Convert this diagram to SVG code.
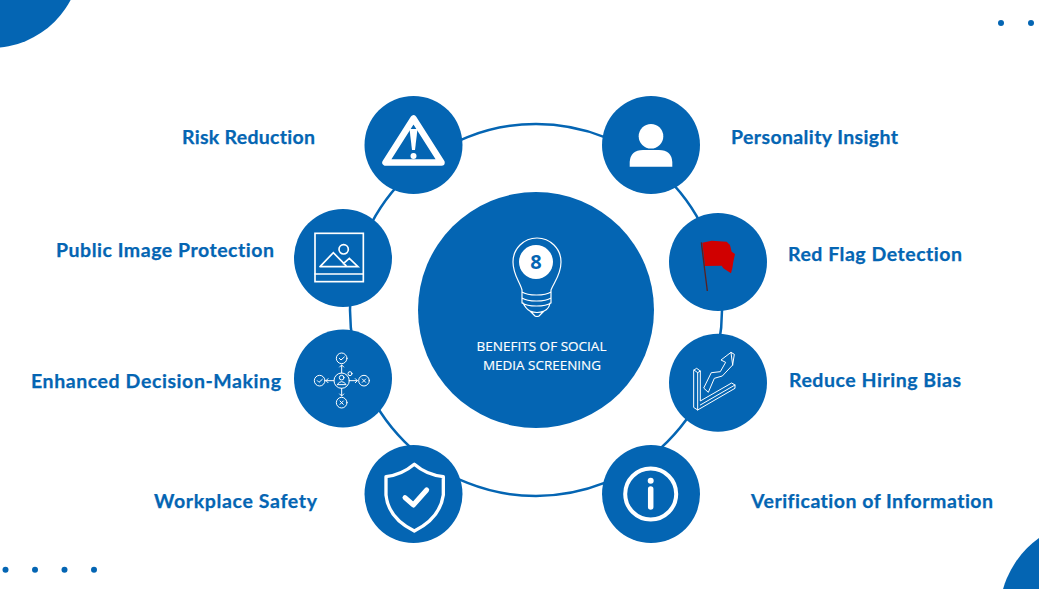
<svg xmlns="http://www.w3.org/2000/svg" width="1039" height="589" viewBox="0 0 1039 589">
<style>
.b{fill:#0465b3}
.l{font-family:"Lato","Liberation Sans",sans-serif;font-weight:700;font-size:19.500px;fill:#0465b3;stroke:#0465b3;stroke-width:.25px;font-variant-ligatures:none}
.c{font-family:"Open Sans","Liberation Sans",sans-serif;font-size:13.500px;fill:#fff;stroke:#fff;stroke-width:.15px;text-anchor:middle}
.w{fill:none;stroke:#fff;stroke-linejoin:round;stroke-linecap:round}
.z{fill:none;stroke:#fff;stroke-linejoin:round;stroke-linecap:round;stroke-width:3}
</style>
<rect width="1039" height="589" fill="#fff"/>
<g id="decor">
<circle class="b" cx="-9" cy="-42" r="90"/>
<circle class="b" cx="1094" cy="615" r="94.600"/>
<circle class="b" cx="1001" cy="23" r="3"/><circle class="b" cx="1031" cy="23" r="3"/>
<circle class="b" cx="5.500" cy="569.700" r="3"/><circle class="b" cx="35" cy="569.700" r="3"/><circle class="b" cx="64.500" cy="569.700" r="3"/><circle class="b" cx="94" cy="569.700" r="3"/>
</g>
<g id="connectors"><circle cx="536" cy="310" r="186" fill="none" stroke="#0465b3" stroke-width="2.500"/></g>
<g id="center"><circle class="b" cx="536" cy="310" r="118"/>
<path class="w" stroke-width="1.200" d="M522 290C520 282 513 275 513 262a24 24 0 0 1 48 0C561 275 554 282 551 290V292C545 296 528 296 522 292ZM522 292V298C528 302 545 302 551 298V292M522 298V303C528 307 545 307 551 303V298M523 303Q526 309 530 311L535 316Q537 317 539 316L544 311Q549 309 550 303M530 311Q537 314 544 311"/>
<circle cx="536" cy="262" r="17" fill="#fff"/>
<text x="536" y="269" font-family="'Open Sans','Liberation Sans',sans-serif" font-weight="700" font-size="20" text-anchor="middle" fill="#0465b3">8</text>
<text class="c" x="541.500" y="351" textLength="130" lengthAdjust="spacingAndGlyphs">BENEFITS OF SOCIAL</text><text class="c" x="542" y="370" textLength="118" lengthAdjust="spacingAndGlyphs">MEDIA SCREENING</text></g>
<g id="n-risk"><circle class="b" cx="413.500" cy="145" r="49"/>
<path class="w" stroke-width="6.500" d="M413.500 118.500L385.500 162.500H441.500Z"/><path d="M409.500 129h8l-2.500 21h-3Z" fill="#fff"/><circle cx="413.500" cy="156" r="3" fill="#fff"/>
<text class="l" x="182" y="143.500" textLength="133">Risk Reduction</text></g>
<g id="n-personality"><circle class="b" cx="651" cy="145" r="49"/>
<circle cx="651" cy="136.300" r="12.300" fill="#fff"/><path d="M629.700 166.700V162Q630.500 150 643 150H659Q671.500 150 672.300 162V166.700Z" fill="#fff"/>
<text class="l" x="731" y="143.500" textLength="167">Personality Insight</text></g>
<g id="n-image"><circle class="b" cx="343" cy="258" r="49"/>
<g transform="translate(290 90) scale(.3333)"><rect x="75" y="430" width="145" height="145" class="z" style="stroke-width:5;stroke-linejoin:miter"/><path class="z" style="stroke-width:5;stroke-linejoin:miter" d="M75 552H220M90 530H204L178 505L160 521M90 530L130 488L168 527"/><circle cx="161" cy="478" r="14" class="z" style="stroke-width:5"/></g>
<text class="l" x="56" y="256.500" textLength="218">Public Image Protection</text></g>
<g id="n-flag"><circle class="b" cx="718" cy="262" r="49"/>
<g transform="translate(595 90) scale(.3333)"><path d="M322 458L350 452L395 455L405 465L410 485L420 492L415 515L412 535L408 550L385 535L380 527L330 528Z" fill="#d00000"/><path d="M319 457L337 603" stroke="#5a2020" stroke-width="4" fill="none"/></g>
<text class="l" x="788" y="260.500" textLength="174">Red Flag Detection</text></g>
<g id="n-decision"><circle class="b" cx="343" cy="378.500" r="49"/>
<g transform="translate(290 325) scale(.3333)"><g class="z"><circle cx="155" cy="167" r="23"/><circle cx="155" cy="100" r="16"/><circle cx="155" cy="233" r="16"/><circle cx="89" cy="167" r="16"/><circle cx="222" cy="167" r="16"/><circle cx="155" cy="158" r="7"/><circle cx="180" cy="146" r="6"/><path d="M142 178q13-17 26 0zM155 144V120M149 126L155 120L161 126M155 190V213M149 207L155 213L161 207M132 167H108M114 161L108 167L114 173M178 167H202M196 161L202 167L196 173M82 167l5 5l10-9M148 100l5 5l10-9M217 162l10 10m0-10l-10 10M150 228l10 10m0-10l-10 10"/></g></g>
<text class="l" x="31" y="387.500" textLength="250">Enhanced Decision-Making</text></g>
<g id="n-bias"><circle class="b" cx="718" cy="382.700" r="49"/>
<g transform="translate(595 325) scale(.3333)"><path class="z" d="M297 135L305 130L316 138V228L410 174L420 180V190L308 255L297 248ZM297 135L308 143V255M308 143L316 138M316 240L420 180M327 190L340 202L358 160L382 153L413 120L418 88L408 82L378 105L392 112L376 140L350 143ZM408 82L413 120"/></g>
<text class="l" x="789" y="386.500" textLength="172">Reduce Hiring Bias</text></g>
<g id="n-safety"><circle class="b" cx="413.500" cy="494" r="49"/>
<g transform="translate(290 325) scale(.3333)"><path class="z" style="stroke-width:10" d="M373 418Q335 450 288 455V510Q295 580 373 618Q450 580 460 510V455Q410 450 373 418Z"/><path class="z" style="stroke-width:15" d="M345 518L370 540L410 495"/></g>
<text class="l" x="154" y="507.500" textLength="163">Workplace Safety</text></g>
<g id="n-info"><circle class="b" cx="651" cy="494" r="49"/>
<circle cx="650.700" cy="494" r="25.500" fill="none" stroke="#fff" stroke-width="4"/><circle cx="650.700" cy="480.700" r="3" fill="#fff"/><path class="w" stroke-width="5.500" d="M650.700 489V507"/>
<text class="l" x="751" y="507.500" textLength="242">Verification of Information</text></g>
</svg>
